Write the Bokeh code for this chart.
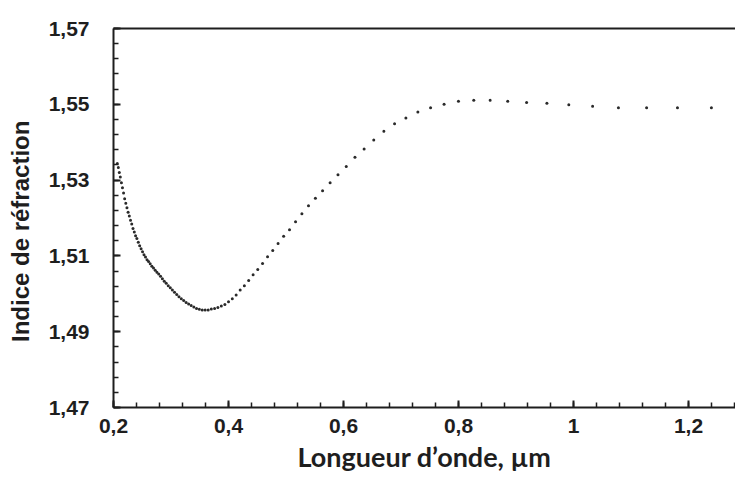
from bokeh.plotting import figure
from bokeh.models import LinearAxis, FixedTicker, Range1d, ColumnDataSource
from bokeh.embed import file_html
from bokeh.resources import INLINE

# Wavelength (µm) and refractive index
wavelength = [
    0.2066, 0.2084, 0.2101, 0.2119, 0.2138, 0.2156, 0.2175, 0.2194, 0.2214, 0.2234,
    0.2254, 0.2275, 0.2296, 0.2317, 0.2339, 0.2362, 0.2384, 0.2407, 0.2431, 0.2455,
    0.2480, 0.2505, 0.2530, 0.2556, 0.2583, 0.2610, 0.2638, 0.2667, 0.2696, 0.2725,
    0.2755, 0.2786, 0.2818, 0.2850, 0.2883, 0.2917, 0.2952, 0.2988, 0.3024, 0.3061,
    0.3100, 0.3139, 0.3179, 0.3221, 0.3263, 0.3307, 0.3351, 0.3397, 0.3444, 0.3493,
    0.3543, 0.3594, 0.3647, 0.3701, 0.3758, 0.3815, 0.3875, 0.3937, 0.4000, 0.4066,
    0.4133, 0.4203, 0.4276, 0.4351, 0.4428, 0.4509, 0.4592, 0.4679, 0.4769, 0.4862,
    0.4959, 0.5061, 0.5166, 0.5276, 0.5391, 0.5511, 0.5636, 0.5767, 0.5904, 0.6048,
    0.6199, 0.6358, 0.6526, 0.6702, 0.6888, 0.7085, 0.7293, 0.7514, 0.7749, 0.7999,
    0.8265, 0.8550, 0.8856, 0.9184, 0.9537, 0.9918, 1.0332, 1.0781, 1.1271, 1.1808,
    1.2398,
]
refr_index = [
    1.5344, 1.5333, 1.5320, 1.5308, 1.5293, 1.5280, 1.5266, 1.5251, 1.5239, 1.5227,
    1.5215, 1.5205, 1.5194, 1.5184, 1.5172, 1.5163, 1.5153, 1.5146, 1.5136, 1.5127,
    1.5119, 1.5111, 1.5103, 1.5097, 1.5090, 1.5085, 1.5079, 1.5073, 1.5068, 1.5062,
    1.5057, 1.5052, 1.5046, 1.5040, 1.5033, 1.5028, 1.5021, 1.5016, 1.5010, 1.5004,
    1.4998, 1.4992, 1.4987, 1.4982, 1.4977, 1.4973, 1.4969, 1.4965, 1.4961, 1.4959,
    1.4957, 1.4957, 1.4957, 1.4960, 1.4961, 1.4964, 1.4968, 1.4972, 1.4979, 1.4987,
    1.4997, 1.5010, 1.5021, 1.5035, 1.5050, 1.5064, 1.5080, 1.5098, 1.5114, 1.5133,
    1.5152, 1.5169, 1.5190, 1.5211, 1.5232, 1.5252, 1.5272, 1.5293, 1.5314, 1.5336,
    1.5360, 1.5382, 1.5406, 1.5429, 1.5449, 1.5464, 1.5480, 1.5491, 1.5500, 1.5508,
    1.5511, 1.5511, 1.5508, 1.5505, 1.5503, 1.5499, 1.5495, 1.5491, 1.5491, 1.5491,
    1.5491,
]

x_ticks = [0.2, 0.4, 0.6, 0.8, 1.0, 1.2]
x_tick_labels = ["0,2", "0,4", "0,6", "0,8", "1", "1,2"]
y_ticks = [1.47, 1.49, 1.51, 1.53, 1.55, 1.57]
y_tick_labels = ["1,47", "1,49", "1,51", "1,53", "1,55", "1,57"]
x_title = "Longueur d’onde, µm"
y_title = "Indice de réfraction"

x_minor = [round(0.2 + 0.04 * i, 4) for i in range(28)]
y_minor = [round(1.47 + 0.004 * i, 4) for i in range(26)]

INK = "#1e1e1e"
TICK_FONT = "Liberation Sans"

src = ColumnDataSource(data=dict(wl=wavelength, n=refr_index))

p = figure(
    width=735, height=477,
    output_backend="svg", toolbar_location=None,
    x_range=Range1d(0.2, 1.2817), y_range=Range1d(1.47, 1.57),
    min_border_left=113, min_border_right=0, min_border_top=28, min_border_bottom=70,
)
p.outline_line_color = None
p.xgrid.visible = False
p.ygrid.visible = False
p.background_fill_color = "white"
p.border_fill_color = "white"

p.scatter(x="wl", y="n", source=src, size=3, fill_color="#2a2a2a", line_color=None)

def style_axis(ax, ticks, minor, labels):
    ax.ticker = FixedTicker(ticks=ticks, minor_ticks=minor)
    ax.major_label_overrides = {t: l for t, l in zip(ticks, labels)}
    ax.axis_line_color = INK
    ax.axis_line_width = 2
    ax.major_tick_in = 7
    ax.major_tick_out = 0
    ax.minor_tick_in = 5
    ax.minor_tick_out = 0
    ax.major_tick_line_color = INK
    ax.minor_tick_line_color = INK
    ax.major_tick_line_width = 2
    ax.minor_tick_line_width = 1.5
    ax.major_label_text_font = TICK_FONT
    ax.major_label_text_font_style = "bold"
    ax.major_label_text_font_size = "21px"
    ax.major_label_text_color = INK

xa = p.xaxis[0]
style_axis(xa, x_ticks, x_minor, x_tick_labels)
xa.major_label_standoff = 11
xa.axis_label = x_title
xa.axis_label_text_font = "Lato"
xa.axis_label_text_font_style = "bold"
xa.axis_label_text_font_size = "27px"
xa.axis_label_text_color = INK
xa.axis_label_standoff = 4

ya = p.yaxis[0]
style_axis(ya, y_ticks, y_minor, y_tick_labels)
ya.major_label_standoff = 24
# trailing no-break spaces nudge the rotated title slightly lower, as in the reference
ya.axis_label = y_title + "\u00a0\u00a0\u00a0\u00a0"
ya.axis_label_text_font = "Liberation Sans"
ya.axis_label_text_font_style = "bold"
ya.axis_label_text_font_size = "24px"
ya.axis_label_text_color = INK
ya.axis_label_standoff = 12

top = LinearAxis(ticker=FixedTicker(ticks=[]))
top.axis_line_color = INK
top.axis_line_width = 2
top.major_tick_in = 0
top.major_tick_out = 0
top.minor_tick_in = 0
top.minor_tick_out = 0
top.major_label_text_font_size = "0px"
p.add_layout(top, "above")

open("out.html", "w").write(file_html(p, INLINE))
